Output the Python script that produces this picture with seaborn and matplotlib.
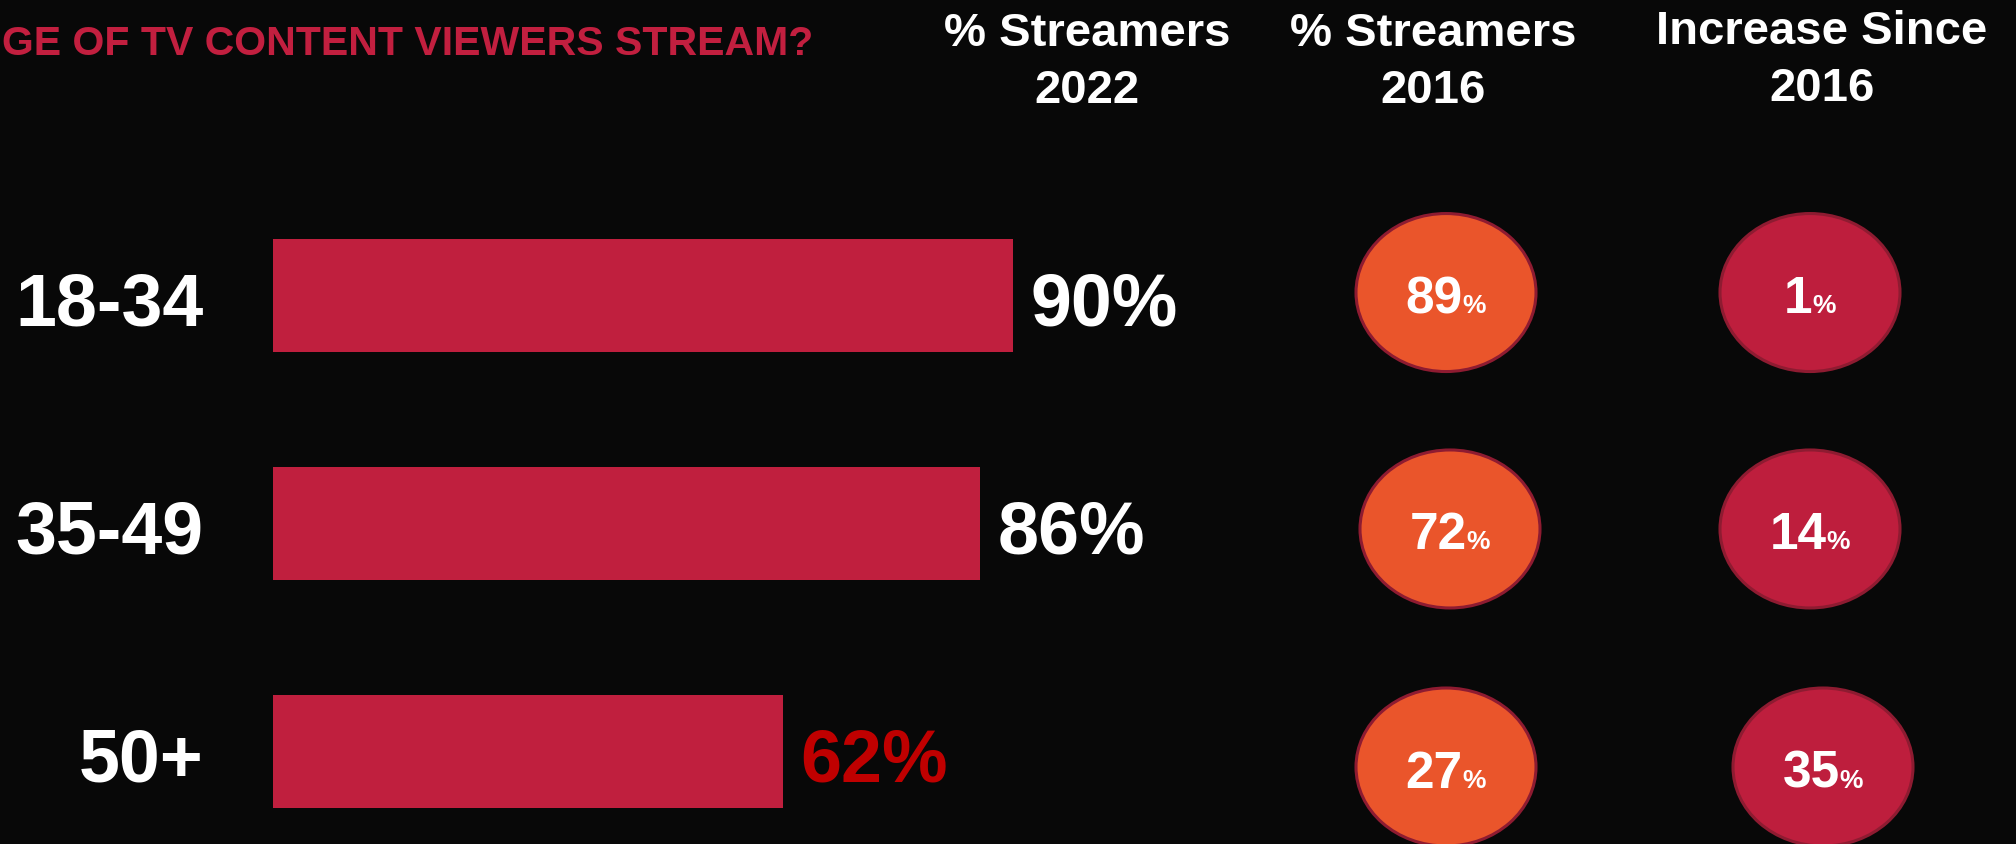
import matplotlib
matplotlib.use("Agg")
import matplotlib.pyplot as plt
from matplotlib import font_manager
from matplotlib.font_manager import FontProperties
from matplotlib.patches import Ellipse
import seaborn as sns
import pandas as pd

# ---- data ----
age_groups = ["18-34", "35-49", "50+"]
streamers_2022 = [90, 86, 62]
streamers_2016 = [89, 72, 27]
increase_since_2016 = [1, 14, 35]
col_headers = [("% Streamers", "2022"), ("% Streamers", "2016"), ("Increase Since", "2016")]
title_text = "GE OF TV CONTENT VIEWERS STREAM?"

# ---- style ----
BG = "#080808"
BAR = "#C01F3E"
ORANGE = "#EA552B"
CRIMSON = "#BE1E3D"
EDGE = "#8E1B31"
TITLE_RED = "#C21F3F"
LOW_RED = "#C00000"

sns.set_style("white")
plt.rcParams["font.family"] = ["Liberation Sans", "DejaVu Sans"]
plt.rcParams["font.weight"] = "bold"

font_path = font_manager.findfont(FontProperties(family="Liberation Sans", weight="bold"),
                                  fallback_to_default=False)
if "Liberation" not in font_path:
    raise SystemExit("font resolved to " + font_path)

W, H = 2016, 845
fig = plt.figure(figsize=(W / 100, H / 100), dpi=100, facecolor=BG)

# bar axes spanning the whole canvas; x in percent, y in category rows
px_per_unit = 8.225
x0_px = 272.6
row_px = 228.0
row0_px = 296.5
xlim = (-x0_px / px_per_unit, (W - x0_px) / px_per_unit)
ylim = ((H - row0_px) / row_px, -row0_px / row_px)

ax = fig.add_axes([0, 0, 1, 1])
ax.set_facecolor(BG)
df = pd.DataFrame({"group": age_groups, "pct": streamers_2022})
sns.barplot(data=df, x="pct", y="group", orient="h", color=BAR, saturation=1,
            width=0.493, linewidth=0, ax=ax)
ax.set_xlim(*xlim)
ax.set_ylim(*ylim)
ax.axis("off")

for i, (g, v) in enumerate(zip(age_groups, streamers_2022)):
    ax.text(-8.4, i + 0.01, g, ha="right", va="center_baseline",
            color="white", fontsize=53, fontweight="bold")
    ax.text(v + 2.1, i + 0.01, f"{v}%", ha="left", va="center_baseline",
            color=LOW_RED if v < 70 else "white", fontsize=53, fontweight="bold")

# overlay axes: x in pixels, y in the same row units as the bars
ov = fig.add_axes([0, 0, 1, 1], facecolor="none")
ov.set_xlim(0, W)
ov.set_ylim(*ylim)
ov.axis("off")

circle_w = 180
circle_h = 158 / row_px
orange_x = [1446, 1450, 1446]
crimson_x = [1810, 1810, 1823]
row_shift = [-0.013, 0.024, 0.068]

labels = []
for i in range(len(age_groups)):
    cy = i + row_shift[i]
    for cx, val, fc in ((orange_x[i], streamers_2016[i], ORANGE),
                        (crimson_x[i], increase_since_2016[i], CRIMSON)):
        ov.add_patch(Ellipse((cx, cy), circle_w, circle_h, facecolor=fc,
                             edgecolor=EDGE, linewidth=2.2, zorder=2))
        base = cy + 19.5 / row_px
        t_num = ov.text(cx, base, f"{val}", ha="left", va="baseline",
                        color="white", fontsize=37, fontweight="bold", zorder=3)
        t_pct = ov.text(cx, base, "%", ha="left", va="baseline",
                        color="white", fontsize=19, fontweight="bold", zorder=3)
        labels.append((cx, base, t_num, t_pct))

# center each number + percent pair within its circle
fig.canvas.draw()
renderer = fig.canvas.get_renderer()
for cx, base, t_num, t_pct in labels:
    wn = t_num.get_window_extent(renderer).width
    wp = t_pct.get_window_extent(renderer).width
    start = cx - (wn + wp) / 2
    t_num.set_x(start)
    t_pct.set_x(start + wn)

# column headers and title
def fx(px):
    return px / W

def fy(py):
    return 1 - py / H

header_x = [1087, 1433, 1822]
header_base = [(46, 103), (46, 103), (44, 101)]
for (l1, l2), hx, (b1, b2) in zip(col_headers, header_x, header_base):
    fig.text(fx(hx), fy(b1), l1, ha="center", va="baseline", color="white",
             fontsize=34, fontweight="bold")
    fig.text(fx(hx), fy(b2), l2, ha="center", va="baseline", color="white",
             fontsize=34, fontweight="bold")

fig.text(fx(2), fy(55), title_text, ha="left", va="baseline",
         color=TITLE_RED, fontsize=29.5, fontweight="bold")

fig.savefig("out.png", dpi=100, facecolor=BG)
